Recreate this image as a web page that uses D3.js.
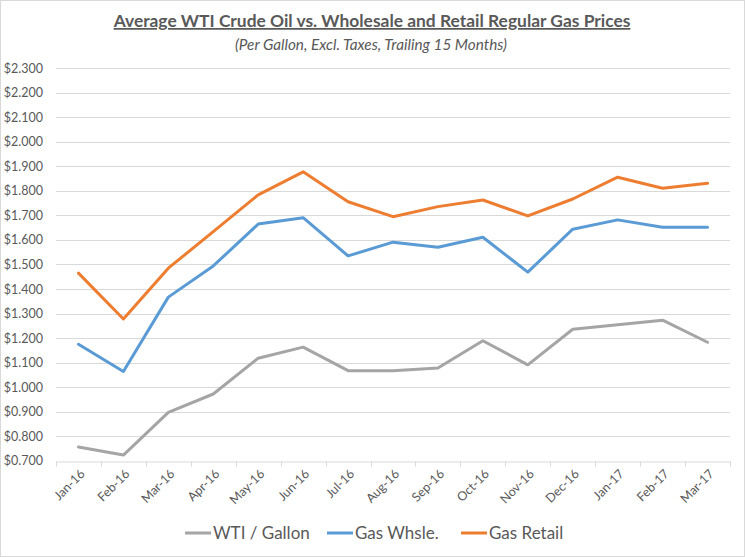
<!DOCTYPE html>
<html>
<head>
<meta charset="utf-8">
<script src="https://cdn.jsdelivr.net/npm/d3@7"></script>
<style>
  html, body { margin: 0; padding: 0; background: #fff; }
  svg { display: block; }
  text { font-family: Lato, "Open Sans", sans-serif; }
</style>
</head>
<body>
<svg id="chart" width="745" height="557"></svg>
<script>
const months = ["Jan-16","Feb-16","Mar-16","Apr-16","May-16","Jun-16","Jul-16","Aug-16","Sep-16","Oct-16","Nov-16","Dec-16","Jan-17","Feb-17","Mar-17"];
const wti    = [0.756, 0.723, 0.897, 0.972, 1.118, 1.163, 1.067, 1.067, 1.078, 1.189, 1.091, 1.236, 1.254, 1.273, 1.183];
const whsle  = [1.175, 1.064, 1.367, 1.494, 1.665, 1.691, 1.535, 1.591, 1.570, 1.611, 1.469, 1.644, 1.682, 1.652, 1.652];
const retail = [1.465, 1.278, 1.485, 1.634, 1.784, 1.878, 1.756, 1.695, 1.736, 1.763, 1.698, 1.767, 1.856, 1.811, 1.831];
const seriesNames = ["WTI / Gallon", "Gas Whsle.", "Gas Retail"];
const seriesColors = ["#a5a5a5", "#5b9bd5", "#ed7d31"];
const yTicks = [0.7,0.8,0.9,1.0,1.1,1.2,1.3,1.4,1.5,1.6,1.7,1.8,1.9,2.0,2.1,2.2,2.3];
const titleText = "Average WTI Crude Oil vs. Wholesale and Retail Regular Gas Prices";
const subtitleText = "(Per Gallon, Excl. Taxes, Trailing 15 Months)";

const W = 745, H = 557;
const svg = d3.select("#chart");

// outer border
svg.append("rect").attr("x", 0.5).attr("y", 0.5).attr("width", W - 1).attr("height", H - 1)
  .attr("fill", "#fff").attr("stroke", "#d9d9d9");

const plot = { left: 56, right: 730, top: 68.3, bottom: 460.7 };

const x = d3.scaleBand().domain(months).range([plot.left, plot.right]).padding(0);
const y = d3.scaleLinear().domain([0.7, 2.3]).range([plot.bottom, plot.top]);

// gridlines
svg.append("g").selectAll("line").data(yTicks.slice(1)).join("line")
  .attr("x1", plot.left).attr("x2", plot.right)
  .attr("y1", d => Math.round(y(d)) + 0.5).attr("y2", d => Math.round(y(d)) + 0.5)
  .attr("stroke", "#d9d9d9").attr("stroke-width", 1);

// y axis labels
const yAxis = d3.axisLeft(y).tickValues(yTicks).tickFormat(d3.format("$.3f")).tickSize(0).tickPadding(13);
const yg = svg.append("g").attr("transform", `translate(${plot.left},0)`).call(yAxis);
yg.select(".domain").remove();
yg.selectAll("text").attr("fill", "#595959").style("font-size", "12.5px")
  .style("font-family", "Lato, 'Open Sans', sans-serif");

// x axis
const xAxis = d3.axisBottom(x).tickSize(0).tickFormat(d => d);
const xg = svg.append("g").attr("transform", `translate(0,${Math.round(plot.bottom) + 0.5})`).call(xAxis);
xg.select(".domain").attr("stroke", "#d9d9d9");
xg.selectAll(".tick line").remove();
// boundary tick marks
const bounds = months.map(m => x(m)).concat([x(months[months.length - 1]) + x.bandwidth()]);
xg.selectAll("line.bt").data(bounds).join("line").attr("class", "bt")
  .attr("x1", d => Math.round(d) + 0.5).attr("x2", d => Math.round(d) + 0.5)
  .attr("y1", 0).attr("y2", 5).attr("stroke", "#d9d9d9");
xg.selectAll(".tick text")
  .attr("fill", "#595959").style("font-size", "12.5px")
  .style("font-family", "Lato, 'Open Sans', sans-serif")
  .attr("text-anchor", "end")
  .attr("transform", "translate(4,10) rotate(-45)")
  .attr("dy", "0.35em").attr("y", 0).attr("x", 0);

// lines
const data = [wti, whsle, retail];
const line = d3.line().x((d, i) => x(months[i]) + x.bandwidth() / 2).y(d => y(d));
svg.append("g").selectAll("path").data(data).join("path")
  .attr("d", d => line(d)).attr("fill", "none")
  .attr("stroke", (d, i) => seriesColors[i]).attr("stroke-width", 3)
  .attr("stroke-linejoin", "round").attr("stroke-linecap", "round");

// title
svg.append("text").attr("x", 372).attr("y", 27).attr("text-anchor", "middle")
  .attr("fill", "#595959").style("font-size", "17.4px").style("font-weight", "bold")
  .style("text-decoration", "underline").text(titleText);
svg.append("text").attr("x", 371).attr("y", 50).attr("text-anchor", "middle")
  .attr("fill", "#595959").style("font-size", "15.3px").style("font-style", "italic")
  .text(subtitleText);

// legend
const legendX = [185, 327, 461];
const lg = svg.append("g").selectAll("g").data(seriesNames).join("g")
  .attr("transform", (d, i) => `translate(${legendX[i]},533)`);
lg.append("line").attr("x1", 0).attr("x2", 26).attr("y1", 0).attr("y2", 0)
  .attr("stroke", (d, i) => seriesColors[i]).attr("stroke-width", 3);
lg.append("text").attr("x", 28).attr("y", 0).attr("dy", "0.35em")
  .attr("fill", "#595959").style("font-size", "17px").text(d => d);
</script>
</body>
</html>
